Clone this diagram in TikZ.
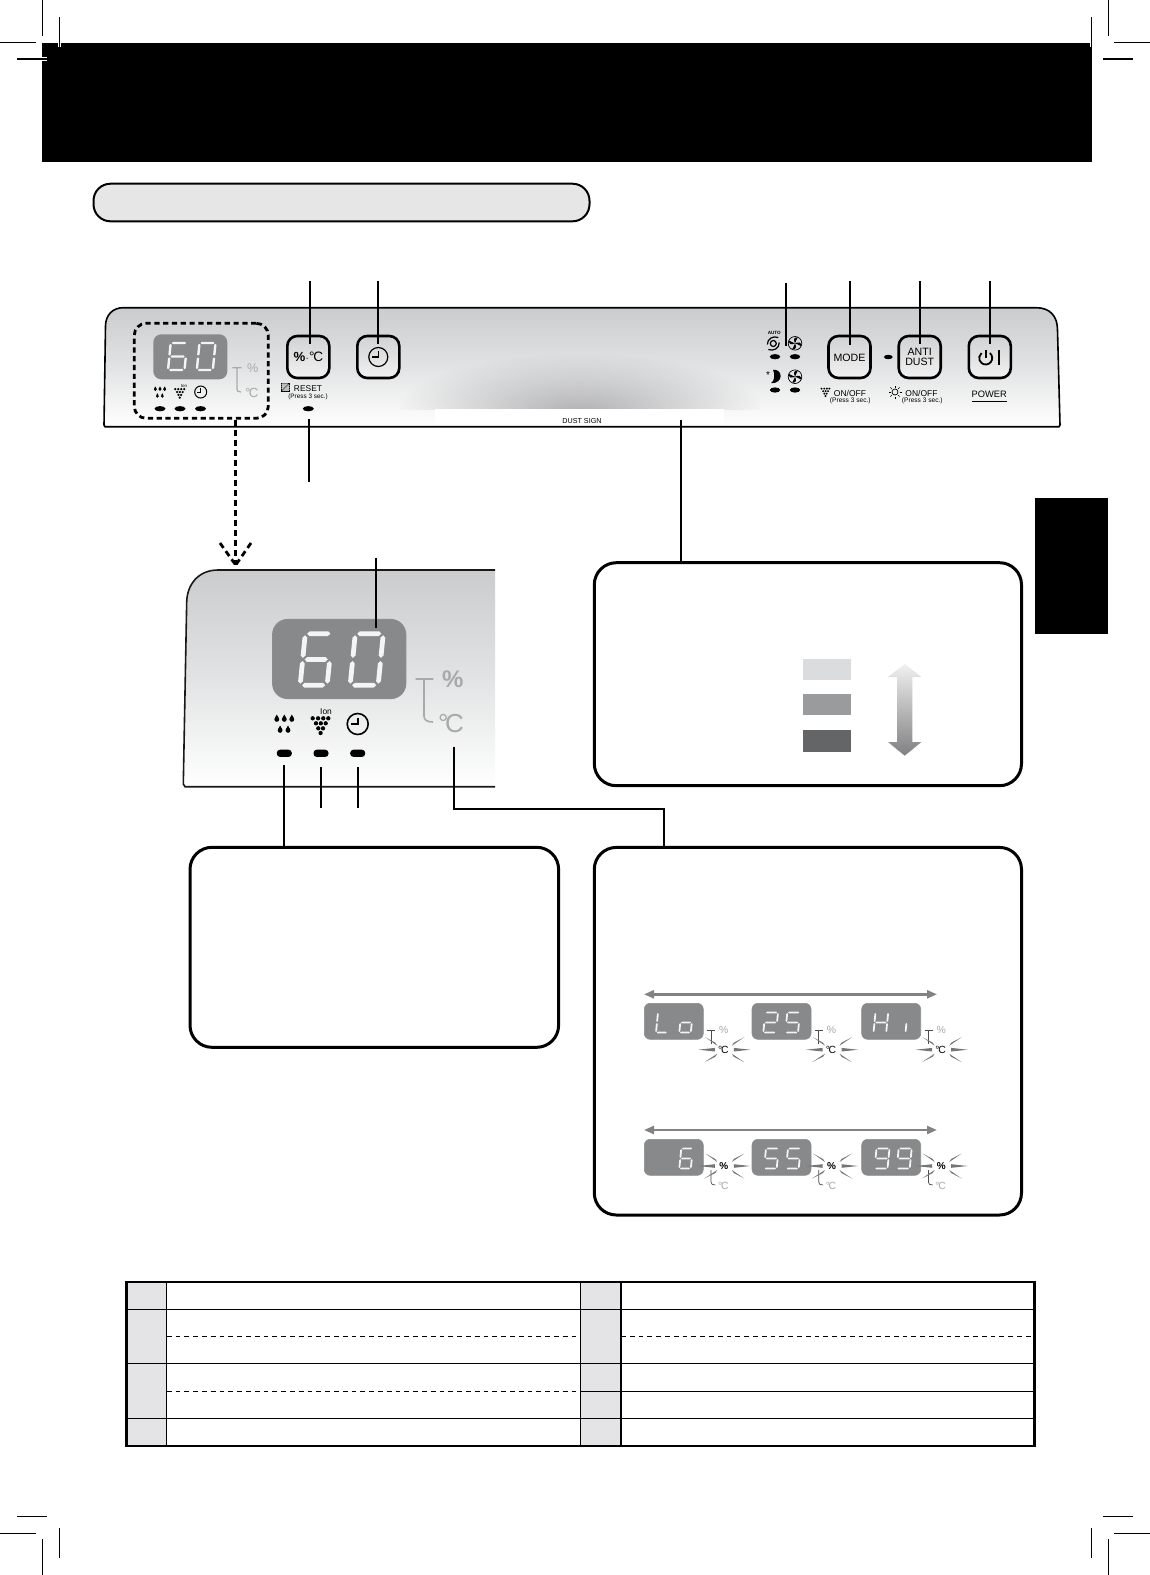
\documentclass[tikz,border=0pt]{standalone}
\usepackage{fontspec}
\setmainfont{Liberation Sans}
\usetikzlibrary{arrows.meta,shapes.geometric,fadings}
\tikzfading[name=softdome,inner color=transparent!0,outer color=transparent!100]
\definecolor{lcdgray}{HTML}{88898B}
\definecolor{labgray}{HTML}{A9A9A9}
\definecolor{cellgray}{HTML}{E4E4E6}
\definecolor{paneltop}{HTML}{CACCCE}
\definecolor{panelmid}{HTML}{E2E3E4}
\definecolor{segc}{HTML}{F4F4F4}
\definecolor{raygray}{HTML}{757575}
\definecolor{pillgray}{HTML}{E6E6E6}
\definecolor{domein}{HTML}{B0B0B2}
\definecolor{swa}{HTML}{DADCDD}
\definecolor{swb}{HTML}{9A9B9D}
\definecolor{swc}{HTML}{646566}
\definecolor{arra}{HTML}{F0F0F0}
\definecolor{arrb}{HTML}{808082}
\definecolor{btntop}{HTML}{D1D2D4}
\definecolor{btnbot}{HTML}{F2F2F2}
\newcommand\fz[1]{\fontsize{#1}{#1}\selectfont}
\newcommand\hseg[3]{\fill[segc] (#1,#3) -- (#1+\tx,#3-\ty) -- (#2-\tx,#3-\ty) -- (#2,#3) -- (#2-\tx,#3+\ty) -- (#1+\tx,#3+\ty) -- cycle;}
\newcommand\vseg[3]{\fill[segc] (#1,#2) -- (#1-\tx,#2+\ty) -- (#1-\tx,#3-\ty) -- (#1,#3) -- (#1+\tx,#3-\ty) -- (#1+\tx,#2+\ty) -- cycle;}
\def\dsga{\hseg{.07}{.93}{0}}
\def\dsgg{\hseg{.07}{.93}{.5}}
\def\dsgd{\hseg{.07}{.93}{1}}
\def\dsgf{\vseg{0}{.03}{.47}}
\def\dsgb{\vseg{1}{.03}{.47}}
\def\dsge{\vseg{0}{.53}{.97}}
\def\dsgc{\vseg{1}{.53}{.97}}
\def\glzero{a,b,c,d,e,f}
\def\gltwo{a,b,g,e,d}
\def\glfive{a,f,g,c,d}
\def\glsix{a,f,g,e,d,c}
\def\glnine{a,b,f,g,c,d}
\def\glL{f,e,d}
\def\glo{g,c,d,e}
\def\glH{f,b,g,e,c}
\def\gli{e}
% x0, y0, w, h, half thickness, segment list
\newcommand\dig[6]{\begin{scope}[shift={(#1,#2)},x={(#3*0.5pt,0pt)},y={(-0.1*#4*0.5pt,-#4*0.5pt)}]
\pgfmathsetmacro\tx{#5/#3}\pgfmathsetmacro\ty{#5/#4}
\foreach \s in #6 {\csname dsg\s\endcsname}
\end{scope}}
\newcommand\icondrops[3]{\begin{scope}[shift={(#1,#2)},scale=#3]
\foreach \cx/\cy in {-7.5/-5,0/-5,7.5/-5,-4.2/6,3.7/6}{
\fill (\cx,\cy+.9) circle (2.4); \fill (\cx-2.2,\cy)--(\cx,\cy-4)--(\cx+2.2,\cy)--cycle;}
\end{scope}}
\newcommand\icongrape[3]{\begin{scope}[shift={(#1,#2)},scale=#3]
\foreach \cx/\cy in {-8.3/-6.7,-2.9/-6.7,2.3/-6.7,7.3/-6.7,-5/-1.7,-.2/-1.7,4.7/-1.7,-2.7/3.3,2/3.3,-.4/8}{\fill (\cx,\cy) circle (2.15);}
\end{scope}}
\newcommand\iconclock[4]{\begin{scope}[shift={(#1,#2)}]
\draw[line width=#4] (0,0) circle (#3);
\draw[line width=#4] (0,-#3*.6) -- (0,0) -- (-#3*.65,0);
\end{scope}}
\newcommand\iconfan[2]{\begin{scope}[shift={(#1,#2)}]
\draw[line width=.35pt] (0,0) circle (6.8);
\foreach \a in {0,90,180,270}{\fill (0,0) .. controls (\a-25:3) and (\a-15:7) .. (\a+25:6.5) .. controls (\a+25:4) and (\a+15:2) .. (0,0) -- cycle;}
\end{scope}}
\newcommand\flashrays[2]{\begin{scope}[shift={(#1,#2)}]
\foreach \rx/\ry/\ix/\iy/\px/\py in {-25/0/-8.5/0/0/1.8, 27/0/10.5/0/0/1.8, -18/-12.5/-7/-5.5/.95/1.5, 21/-12.5/9.5/-5.5/-.95/1.5, -19/12.5/-7/5.5/.95/-1.5, 21/12.5/9.5/5.5/-.95/-1.5}{
\fill[raygray] (\rx,\ry) -- (\ix+\px,\iy+\py) -- (\ix-\px,\iy-\py) -- cycle;}
\end{scope}}
\tikzset{
 conn/.style={line width=1pt,draw=black},
 crop/.style={line width=.6pt,draw=black},
 btnbox/.style={draw=black,line width=1.3pt,rounded corners=5pt,top color=btntop,bottom color=btnbot,minimum width=21pt,minimum height=21pt,inner sep=0pt},
 calloutbox/.style={draw=black,line width=1.5pt,rounded corners=11pt,fill=white,inner sep=0pt},
 lcd/.style={fill=lcdgray,inner sep=0pt},
 led/.style={fill=black,ellipse,inner sep=0pt},
 lab/.style={inner sep=0pt,text=black,align=center},
 glab/.style={inner sep=0pt,text=labgray},
 tbl/.style={line width=.6pt,draw=black},
 graybracket/.style={draw=labgray,line width=.6pt},
 panelfill/.style={top color=paneltop,bottom color=white,middle color=panelmid},
 gar/.style={draw=raygray!90!white,line width=1.2pt,{Stealth[length=5pt,width=4pt,inset=0pt]}-{Stealth[length=5pt,width=4pt,inset=0pt]}},
}
\begin{document}
\begin{tikzpicture}[x=0.5pt,y=-0.5pt]
\useasboundingbox (0,0) rectangle (1150,1575);
% header
\fill[black] (42,43) rectangle (1092,162);
\fill[black] (1035.3,498) rectangle (1108,634);
% crop marks
\foreach \ax/\ay/\bx/\by in {42.3/0/42.3/36, 0/42.3/36/42.3, 59.3/17/59.3/47, 17/59/47/59,
 1108.3/0/1108.3/36, 1114/42.3/1150/42.3, 1091.3/17/1091.3/47, 1103/59/1133/59,
 17/1516.3/47/1516.3, 0/1533.3/36/1533.3, 59.3/1528/59.3/1558, 42.3/1539/42.3/1575,
 1103/1516.3/1133/1516.3, 1114/1533.3/1150/1533.3, 1091.3/1528/1091.3/1558, 1108.3/1539/1108.3/1575}
 {\draw[white,line width=1.6pt] (\ax,\ay) -- (\bx,\by); \draw[crop] (\ax,\ay) -- (\bx,\by);}
% title pill
\node[draw=black,line width=1pt,rounded corners=8.5pt,fill=pillgray,minimum width=248pt,minimum height=18.8pt,inner sep=0pt] (pill) at (341.5,202.5) {};
% top panel
\path[panelfill]
 (123,307.7) -- (1036,307.7) .. controls (1050,307.7) and (1057.5,316) .. (1057.5,330) -- (1060,425) -- (1059,426.7) -- (105,426.7) -- (104,425) -- (105.5,326) .. controls (105.5,315) and (113,307.7) .. (123,307.7) -- cycle;
\begin{scope}
\clip (400,340) rectangle (760,409);
\fill[domein,path fading=softdome] (580,413) ellipse (185 and 60);
\end{scope}
\fill[white] (435,409) rectangle (724,425.8);
\draw[line width=.8pt] (123,307.7) -- (1036,307.7) .. controls (1050,307.7) and (1057.5,316) .. (1057.5,330) -- (1060,425) -- (1059,426.7) -- (105,426.7) -- (104,425) -- (105.5,326) .. controls (105.5,315) and (113,307.7) .. (123,307.7) -- cycle;
% zone round small display
\node[draw=black,line width=1.4pt,rounded corners=6pt,dash pattern=on 2.6pt off 1.8pt,minimum width=67pt,minimum height=47.5pt,inner sep=0pt] (zone) at (201.3,370.8) {};
\node[lcd,rounded corners=4pt,minimum width=37pt,minimum height=22.5pt] (lcdsmall) at (190.3,356.8) {};
\dig{170.7}{343}{16.5}{27}{1.2}{\glsix}
\dig{199.5}{343}{16}{27}{1.2}{\glzero}
\draw[graybracket] (232.3,367.7) -- (241.7,367.7) (236.9,367.7) -- (236.9,389) .. controls (236.9,391) and (238,392) .. (241,392);
\node[glab,font=\fz{6.3}] (smallpct) at (252.7,368) {\%};
\node[glab,font=\fz{6.6}] (smalldeg) at (251.7,393) {°\kern-.8ptC};
\icondrops{160}{392}{.62}
\icongrape{180}{393}{.58}
\node[lab,font=\fz{2.2}] (smallion) at (184,385.5) {Ion};
\iconclock{200.7}{392}{6}{.5pt}
\foreach \n/\lx in {la/160,lb/180,lc/200.5}{\node[led,minimum width=5.5pt,minimum height=2.6pt] (\n) at (\lx,408.7) {};}
% buttons
\node[btnbox] (bpct) at (308.3,357) {};
\node[lab] (bpcttxt) at (308.3,357) {\fz{6.6}\textbf{\%}\kern.2pt{\fz{5}·}\kern.1pt\fz{6.8}°\kern-.7ptC};
\node[btnbox] (bclock) at (378.3,357) {};
\iconclock{378.3}{357}{9.5}{.6pt}
\node[btnbox] (bmode) at (849.5,357) {};
\node[lab,font=\fz{5.3}] (bmodetxt) at (849.5,357.5) {MODE};
\node[btnbox] (banti) at (919.7,357) {};
\node[lab,font=\fz{5.3}] (bantia) at (919.7,352) {ANTI};
\node[lab,font=\fz{5.3}] (bantib) at (919.7,362) {DUST};
\node[btnbox] (bpower) at (989.8,357) {};
\draw[line width=.9pt] (985.7,349.5) -- (985.7,358);
\draw[line width=.9pt] (985.7,358) ++(-50:6.5) arc[start angle=-50,end angle=230,radius=6.5];
\draw[line width=.7pt] (999,350) -- (999,365);
% reset texts
\fill[gray] (281.5,383) rectangle (289.5,391);
\draw[line width=.25pt] (281.5,383) rectangle (289.5,391);
\foreach \d in {2,4,6}{\draw[white,line width=.2pt] (281.5+\d,383) -- (281.5,383+\d); \draw[white,line width=.2pt] (289.5-\d,391) -- (289.5,391-\d);}
\node[lab,font=\fz{4.2}] (treset) at (308,388.3) {RESET};
\node[lab,font=\fz{3.2}] (tpress) at (308,397) {(Press 3 sec.)};
\node[led,minimum width=5.5pt,minimum height=2.6pt] (ledreset) at (308.3,408.7) {};
% fan column
\node[lab,font=\bfseries\fz{2.3}] (tauto) at (774.3,332.7) {AUTO};
\begin{scope}[shift={(773.3,343.5)}]
\draw[line width=.6pt] (5,-6) .. controls (0,-8) and (-6,-5) .. (-6,1);
\draw[line width=.6pt] (-5,6) .. controls (0,8) and (6,5) .. (6,-1);
\draw[line width=.6pt] (0,0) circle (3);
\end{scope}
\iconfan{795}{343.3}
\begin{scope}[shift={(776,376.7)}]
\fill (-3,-7) .. controls (7,-8) and (8,7) .. (-5,6.5) .. controls (-1,4) and (-1,-3) .. (-3,-7) -- cycle;
\end{scope}
\node[lab,font=\fz{5}] (tstar) at (768,375.5) {*};
\iconfan{795}{376.7}
\foreach \n/\lx/\ly in {ld/775/356.7,le/795/356.7,lf/775/390,lg/795/390}{\node[led,minimum width=5.2pt,minimum height=2.6pt] (\n) at (\lx,\ly) {};}
\node[led,minimum width=4.4pt,minimum height=2.2pt] (ledanti) at (888.3,357) {};
\icongrape{825.7}{392}{.5}
\node[lab,font=\fz{4.25}] (ton1) at (850,393) {ON/OFF};
\node[lab,font=\fz{3.3}] (tpr1) at (850.3,400.8) {(Press 3 sec.)};
\begin{scope}[shift={(895,392)}]
\draw[line width=.35pt] (0,0) circle (3);
\foreach \a in {0,45,...,315}{\draw[line width=.3pt] (\a:4.5) -- (\a:6.5);}
\end{scope}
\node[lab,font=\fz{4.25}] (ton2) at (921.5,393) {ON/OFF};
\node[lab,font=\fz{3.3}] (tpr2) at (922.3,400.8) {(Press 3 sec.)};
\node[lab,font=\fz{4.65}] (tpower) at (989.3,394) {POWER};
\draw[line width=.5pt] (972.3,401) -- (1007,401);
\node[lab,font=\fz{3.6}] (tdust) at (582,420.7) {DUST SIGN};
% big panel
\path[panelfill] (495,570) -- (218,570) .. controls (198,570) and (187,585) .. (186.7,602) -- (183.3,784) -- (185,786.7) -- (495,786.7) -- cycle;
\draw[line width=.8pt,draw=black!90] (495,570) -- (218,570) .. controls (198,570) and (187,585) .. (186.7,602) -- (183.3,784) -- (185,786.7) -- (495,786.7);
\node[lcd,draw=black!45,line width=.6pt,rounded corners=7.5pt,minimum width=66.5pt,minimum height=39.5pt] (lcdbig) at (339.2,659) {};
\dig{305.3}{633.7}{27}{51.5}{2.4}{\glsix}
\dig{355.3}{633.7}{28}{51.5}{2.4}{\glzero}
\draw[draw=labgray,line width=.8pt] (415.7,679) -- (433.3,679) (424,679) -- (424,716) .. controls (424,720) and (427,722) .. (433,722);
\node[glab,font=\bfseries\fz{12}] (bigpct) at (452.7,679) {\%};
\node[glab,font=\fz{13}] (bigdeg) at (451,723.5) {°\kern-1.6ptC};
\icondrops{284.3}{723.5}{1}
\icongrape{321}{725}{1}
\node[lab,font=\fz{4.2}] (bigion) at (326,711.7) {Ion};
\iconclock{357.7}{724}{10.5}{.8pt}
\foreach \n/\lx in {lh/284.3,li/321,lj/357.7}{\node[led,rectangle,rounded corners=1.6pt,minimum width=7.5pt,minimum height=3.6pt] (\n) at (\lx,753.3) {};}
% callouts
\node[calloutbox,minimum width=213.6pt,minimum height=111.5pt] (boxdust) at (807.9,674.2) {};
\node[calloutbox,minimum width=184.3pt,minimum height=100pt] (boxleft) at (374.3,947.3) {};
\node[calloutbox,minimum width=213.6pt,minimum height=183.8pt] (boxright) at (807.9,1031.2) {};
% connectors
\foreach \n/\lx/\ya/\yb in {c1/310/281/344,c2/378/281/344,c3/785.7/283/345.7,c4/849.7/281/345,c5/920/281/344,c6/989.7/281/344,c7/309/419/481.7,c8/375.7/557.7/628.3,c9/321/767.3/808.3,c10/358/767.3/808.3}{
 \coordinate (\n a) at (\lx,\ya); \coordinate (\n b) at (\lx,\yb); \draw[conn] (\n a) -- (\n b);}
\coordinate (dusttop) at (681,420);
\draw[conn] (dusttop) -- (dusttop |- boxdust.north);
\coordinate (ledl) at (284.3,765);
\draw[conn] (ledl) -- (ledl |- boxleft.north);
\coordinate (elbowa) at (453.7,746.7);
\coordinate (elbowb) at (664,809);
\draw[conn] (elbowa) |- (elbowb) -- (elbowb |- boxright.north);
% dashed link and head
\coordinate (zonex) at (235.7,560);
\coordinate (headtip) at (235.7,565);
\coordinate (headl) at (220,543);
\coordinate (headr) at (251,543);
\draw[line width=1.4pt,dash pattern=on 3pt off 2pt] (zonex |- zone.south) -- (headtip);
\draw[line width=1.4pt,dash pattern=on 3pt off 2pt] (headl) -- (headtip);
\draw[line width=1.4pt,dash pattern=on 3pt off 2pt] (headr) -- (headtip);
% swatches and shaded arrow
\fill[swa] (803,659) rectangle (850.7,679.7);
\fill[swb] (803,694) rectangle (850.7,714.7);
\fill[swc] (803,730) rectangle (850.7,751.7);
\path[top color=arra,bottom color=arrb] (904.7,664) -- (921.4,677) -- (912.4,677) -- (912.4,742) -- (921.4,742) -- (904.7,755.7) -- (888,742) -- (897,742) -- (897,677) -- (888,677) -- cycle;
% lcd rows
\coordinate (ra1) at (644,994.3); \coordinate (ra2) at (937,994.3);
\draw[gar] (ra1) -- (ra2);
\coordinate (rb1) at (644,1130); \coordinate (rb2) at (937,1130);
\draw[gar] (rb1) -- (rb2);
\foreach \n/\cx in {u1/673.8,u2/781.5,u3/891.2}{
 \node[lcd,draw=black!45,line width=.3pt,rounded corners=3pt,minimum width=29.5pt,minimum height=18pt] (\n) at (\cx,1021.3) {};}
\foreach \n/\cx in {v1/673.8,v2/781.5,v3/891.2}{
 \node[lcd,draw=black!45,line width=.3pt,rounded corners=3pt,minimum width=29.5pt,minimum height=18pt] (\n) at (\cx,1157.3) {};}
\dig{658}{1012.5}{11.5}{20}{.9}{\glL}
\dig{681.3}{1012.5}{11.5}{20}{.9}{\glo}
\dig{765.3}{1012.5}{12.7}{20}{.9}{\gltwo}
\dig{787.3}{1012.5}{12.7}{20}{.9}{\glfive}
\dig{875.5}{1012.5}{12.7}{20}{.9}{\glH}
\dig{907.5}{1012.5}{12.7}{20}{.9}{\gli}
\dig{681.3}{1148.5}{11.5}{20}{.9}{\glsix}
\dig{766}{1148.5}{12.7}{20}{.9}{\glfive}
\dig{788}{1148.5}{12.7}{20}{.9}{\glfive}
\dig{876.5}{1148.5}{13}{20}{.9}{\glnine}
\dig{898.7}{1148.5}{13}{20}{.9}{\glnine}
% flash: upper row (deg lit)
\foreach \cx/\id in {723.3/a,831/b,940.7/c}{
 \draw[draw=black!70,line width=.35pt] (\cx-16,1030) -- (\cx-8,1030) (\cx-12.3,1030) -- (\cx-12.3,1044);
 \flashrays{\cx}{1049.7}
 \node[glab,font=\fz{5.2}] (up\id) at (\cx+.5,1030) {\%};
 \node[lab,font=\fz{5.2}] (ud\id) at (\cx,1050) {°\kern-.6ptC};
}
% flash: lower row (pct lit)
\foreach \cx/\id in {723.3/a,831/b,940.7/c}{
 \draw[draw=black!70,line width=.35pt] (\cx-12.3,1170) -- (\cx-12.3,1182) .. controls (\cx-12.3,1184) and (\cx-11,1185) .. (\cx-8,1185);
 \flashrays{\cx}{1166}
 \node[lab,font=\bfseries\fz{5}] (lp\id) at (\cx+.5,1166) {\%};
 \node[glab,font=\fz{5.2}] (ld\id) at (\cx,1185.5) {°\kern-.6ptC};
}
% table
\fill[cellgray] (126.6,1282) rectangle (166.7,1445.7);
\fill[cellgray] (580.5,1282) rectangle (621,1445.7);
\foreach \ry in {1309.3,1363.3,1418.3}{\draw[tbl] (126.6,\ry) -- (1034.3,\ry);}
\draw[tbl] (580.5,1391.3) -- (1034.3,1391.3);
\draw[tbl,dash pattern=on 2.4pt off 2pt] (166.7,1336.3) -- (580.5,1336.3);
\draw[tbl,dash pattern=on 2.4pt off 2pt] (621,1336.3) -- (1034.3,1336.3);
\draw[tbl,dash pattern=on 2.4pt off 2pt] (166.7,1391.3) -- (580.5,1391.3);
\foreach \cx in {166.7,580.5,621}{\draw[tbl] (\cx,1282) -- (\cx,1445.7);}
\draw[line width=1.2pt] (126.6,1282) rectangle (1034.3,1445.7);
\end{tikzpicture}
\end{document}
